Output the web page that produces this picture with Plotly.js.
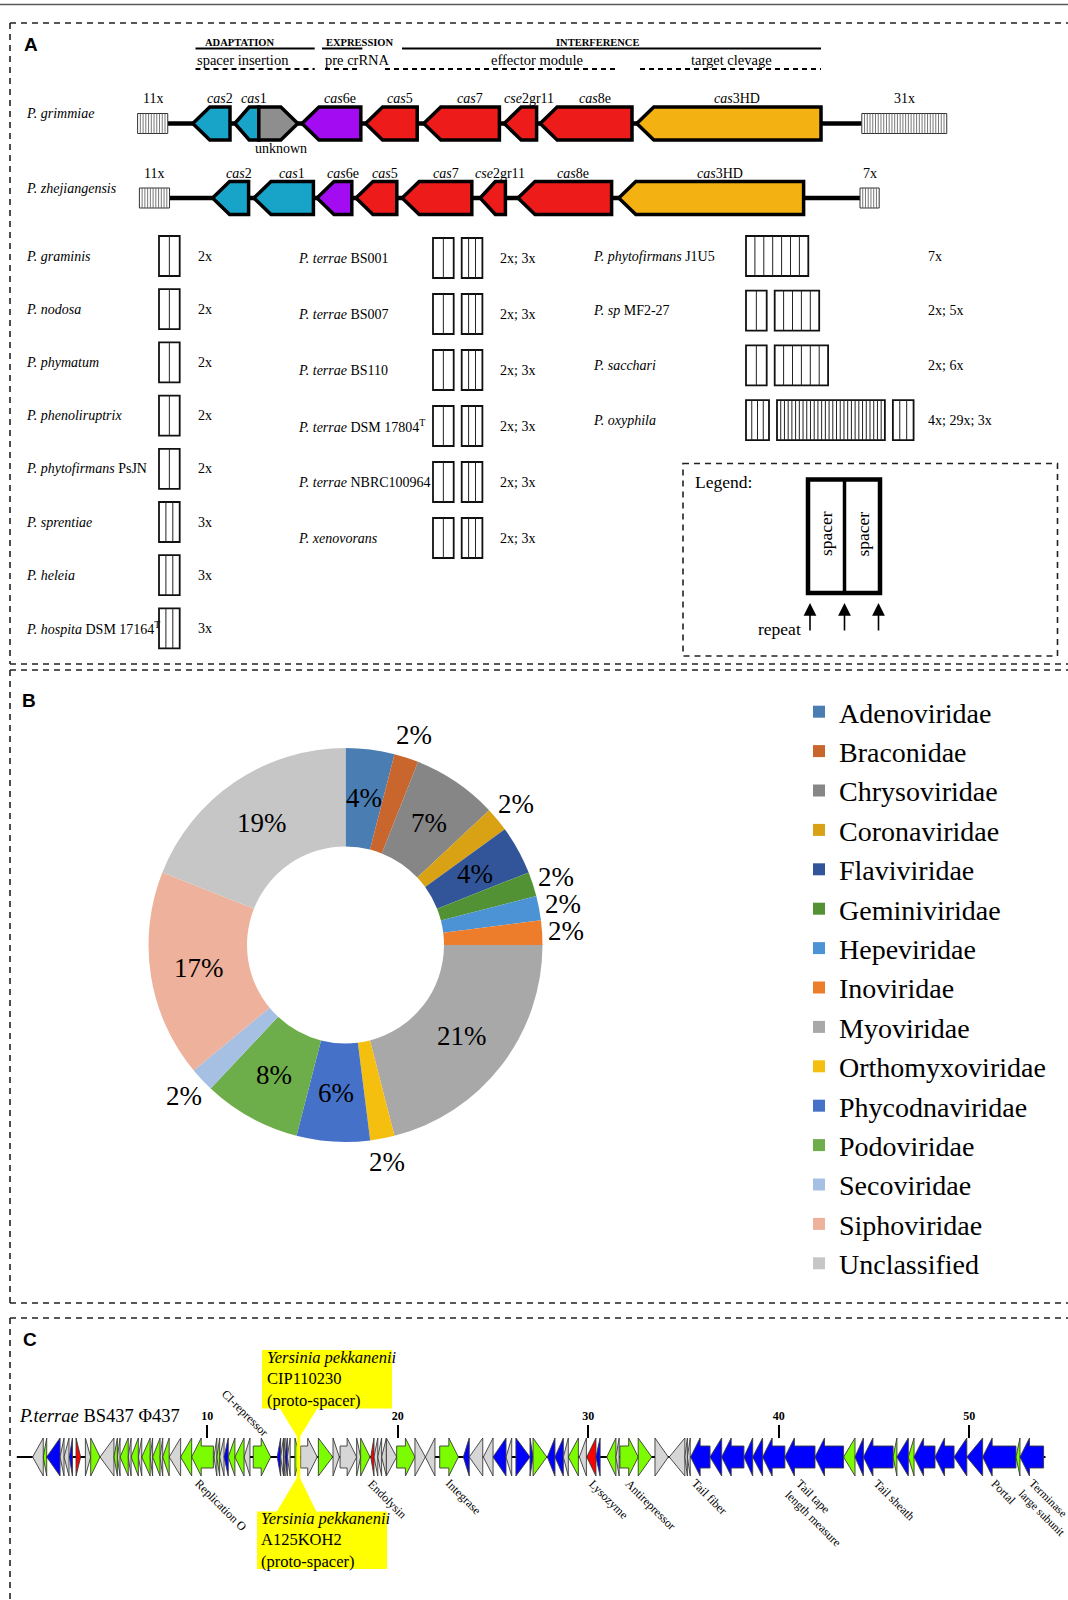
<!DOCTYPE html>
<html>
<head>
<meta charset="utf-8">
<title>CRISPR-Cas systems in Paraburkholderia</title>
<script src="https://cdn.plot.ly/plotly-3.0.1.min.js"></script>
<style>
  html, body { margin: 0; padding: 0; background: #ffffff; }
  #fig { width: 1068px; height: 1600px; }
</style>
</head>
<body>
<div id="fig"></div>
<script>
/* ================= DATA ================= */

/* Panel A — type I-E cas operons (map positions in kb) */
const grimmiaeGenes   = ['cas2', 'cas1', 'unknown', 'cas6e', 'cas5', 'cas7', 'cse2gr11', 'cas8e', 'cas3HD'];
const grimmiaeStart   = [0.92, 1.62, 2.02, 2.74, 3.80, 4.77, 6.11, 6.71, 8.32];
const grimmiaeEnd     = [1.54, 2.02, 2.67, 3.72, 4.66, 6.03, 6.65, 8.24, 11.39];
const grimmiaeStrand  = [-1, -1, 1, -1, -1, -1, -1, -1, -1];
const grimmiaeRepeats = [11, 31];
const grimmiaeArrayAt = [0.00, 12.07];

const zhejiangGenes   = ['cas2', 'cas1', 'cas6e', 'cas5', 'cas7', 'cse2gr11', 'cas8e', 'cas3HD'];
const zhejiangStart   = [1.25, 1.94, 2.99, 3.64, 4.41, 5.71, 6.34, 8.02];
const zhejiangEnd     = [1.85, 2.93, 3.57, 4.32, 5.57, 6.13, 7.90, 11.10];
const zhejiangStrand  = [-1, -1, -1, -1, -1, -1, -1, -1];
const zhejiangRepeats = [11, 7];
const zhejiangArrayAt = [0.03, 12.04];

/* Panel A — CRISPR arrays (spacers per array) */
const strainsCol1 = ['<i>P. graminis</i>', '<i>P. nodosa</i>', '<i>P. phymatum</i>', '<i>P. phenoliruptrix</i>',
                     '<i>P. phytofirmans</i> PsJN', '<i>P. sprentiae</i>', '<i>P. heleia</i>', '<i>P. hospita</i> DSM 17164<sup>T</sup>'];
const spacersCol1 = [[2], [2], [2], [2], [2], [3], [3], [3]];
const strainsCol2 = ['<i>P. terrae</i> BS001', '<i>P. terrae</i> BS007', '<i>P. terrae</i> BS110',
                     '<i>P. terrae</i> DSM 17804<sup>T</sup>', '<i>P. terrae</i> NBRC100964', '<i>P. xenovorans</i>'];
const spacersCol2 = [[2, 3], [2, 3], [2, 3], [2, 3], [2, 3], [2, 3]];
const strainsCol3 = ['<i>P. phytofirmans</i> J1U5', '<i>P. sp</i> MF2-27', '<i>P. sacchari</i>', '<i>P. oxyphila</i>'];
const spacersCol3 = [[7], [2, 5], [2, 6], [4, 29, 3]];

/* Panel B — viral families matched by spacers (%) */
const families = ['Adenoviridae', 'Braconidae', 'Chrysoviridae', 'Coronaviridae', 'Flaviviridae', 'Geminiviridae',
                  'Hepeviridae', 'Inoviridae', 'Myoviridae', 'Orthomyxoviridae', 'Phycodnaviridae', 'Podoviridae',
                  'Secoviridae', 'Siphoviridae', 'Unclassified'];
const familyShare = [4, 2, 7, 2, 4, 2, 2, 2, 21, 2, 6, 8, 2, 17, 19];

/* Panel C — prophage Φ437 gene map (kb); strand L/R; class g/b/x/r */
const phageStart = [0.83, 1.39, 1.57, 2.27, 2.48, 2.76, 3.11, 3.60, 3.88, 4.37,
                    5.10, 5.28, 5.42, 5.85, 6.00, 6.38, 6.56, 7.00, 7.13, 7.52,
                    7.66, 8.00, 8.60, 9.18, 10.35, 10.50, 10.65, 10.88, 11.10, 11.45,
                    11.93, 12.41, 13.67, 13.85, 14.00, 14.08, 14.20, 14.60, 14.90, 15.83,
                    16.60, 16.97, 17.84, 18.05, 18.58, 18.75, 18.95, 19.15, 19.40, 19.94,
                    20.90, 21.45, 22.20, 23.44, 23.75, 24.49, 25.00, 25.68, 26.20, 26.94,
                    27.10, 27.85, 28.25, 28.69, 28.95, 29.53, 29.92, 30.40, 30.97, 31.45,
                    31.66, 32.62, 33.50, 34.25, 35.07, 35.20, 35.37, 36.39, 37.00, 38.17,
                    38.63, 39.15, 40.32, 41.90, 43.40, 44.00, 44.44, 46.00, 46.20, 46.80,
                    47.10, 48.20, 49.20, 49.87, 50.70, 52.45, 52.66];
const phageEnd   = [1.39, 1.57, 2.27, 2.48, 2.74, 2.92, 3.35, 3.88, 4.37, 5.10,
                    5.28, 5.42, 5.85, 6.00, 6.38, 6.56, 7.00, 7.13, 7.52, 7.66,
                    8.00, 8.60, 9.18, 10.32, 10.50, 10.65, 10.88, 11.10, 11.45, 11.93,
                    12.24, 13.33, 13.85, 14.00, 14.08, 14.20, 14.35, 14.87, 15.77, 16.58,
                    16.93, 17.84, 18.05, 18.54, 18.75, 18.95, 19.15, 19.40, 19.94, 20.90,
                    21.45, 21.95, 23.18, 23.75, 24.46, 25.00, 25.68, 25.98, 26.94, 27.10,
                    27.82, 28.25, 28.69, 28.95, 29.48, 29.90, 30.40, 30.62, 31.45, 31.62,
                    32.62, 33.33, 34.20, 35.07, 35.20, 35.35, 36.39, 37.00, 38.17, 38.63,
                    39.15, 40.32, 41.90, 43.40, 44.00, 44.44, 46.00, 46.20, 46.80, 47.10,
                    48.20, 49.20, 49.87, 50.70, 52.45, 52.66, 53.90];
const phageStrand = ('LLLLLLRRRL' + 'LLLLLLLLLL' + 'LLLLLLLLLL' + 'LRLLLLLRRR' + 'RRRRLLLLRR' +
                     'RLRLLLLLRR' + 'RLLLLLLLLL' + 'RRRLLLLLLL' + 'LLLLLLLLLL' + 'LLLLLLL').split('');
const phageClass  = ('xgbxxbrxgx' + 'gxgxgxgxgx' + 'gxggxgxbgg' + 'xgbxxbxgxg' + 'xxxgrxxxxg' +
                     'xxgbxxbxbb' + 'gbbxgxrbgx' + 'ggxxxxbbbb' + 'bbbbgbbgbg' + 'bbbbbgb').split('');
const phageLength = 54.0;
const phageTicks  = [10, 20, 30, 40, 50];
const phageLabels = ['Replication O', 'Endolysin', 'Integrase', 'Lysozyme', 'Antirepressor', 'Tail fiber',
                     'Tail tape<br>length measure', 'Tail sheath', 'Portal', 'Terminase<br>large subunit'];
const phageLabelAt = [9.04, 18.12, 22.22, 29.72, 31.67, 35.13, 40.01, 44.68, 50.85, 52.29];
const repressorLabel = 'CI-repressor';
const repressorAt = 13.50;
const protospacerAt = 14.79;
const protospacerHits = ['<i>Yersinia pekkanenii</i><br>CIP110230<br>(proto-spacer)',
                         '<i>Yersinia pekkanenii</i><br>A125KOH2<br>(proto-spacer)'];

/* ================= STYLE ================= */
const SERIF = 'Liberation Serif, Times New Roman, serif';
const SANS = 'Liberation Sans, Arial, sans-serif';
const DASH = '6px,5px';
const CAS_COLORS = { cas1: '#18a4c9', cas2: '#18a4c9', unknown: '#8e8e8e', cas6e: '#a30cf2',
                     cas3HD: '#f3b212', other: '#ee1b1b' };
const FAMILY_COLORS = ['#4a7db2', '#c9662d', '#868686', '#d9a214', '#325599', '#529234', '#4c93d6',
                       '#ed7d2b', '#a8a8a8', '#f5bf10', '#4571c8', '#6dad4a', '#a6c0e4', '#eeb19b', '#c6c6c6'];
const PHAGE_COLORS = { g: '#7cfc00', b: '#0000ff', x: '#d6d6d6', r: '#ff0000' };

const shapes = [];
const annotations = [];
const traces = [];

function addLine(x0, y0, x1, y1, width, dash, color, xref) {
  shapes.push({ type: 'line', xref: xref || 'x', yref: 'y', x0, y0, x1, y1, layer: 'above',
                line: { color: color || '#000', width, dash: dash || 'solid' } });
}
function addRect(x0, y0, x1, y1, fill, color, width, dash, xref) {
  shapes.push({ type: 'rect', xref: xref || 'x', yref: 'y', x0, y0, x1, y1, layer: 'above',
                fillcolor: fill, line: { color: color || '#000', width: width, dash: dash || 'solid' } });
}
function addPath(pts, fill, color, width, xref) {
  const d = 'M' + pts.map(p => p[0].toFixed(4) + ',' + p[1].toFixed(2)).join('L') + 'Z';
  shapes.push({ type: 'path', xref: xref || 'x', yref: 'y', path: d, layer: 'above',
                fillcolor: fill, line: { color: color, width: width } });
}
function addText(x, y, text, size, opts) {
  const o = Object.assign({ xref: 'x', yref: 'y', x, y, text, showarrow: false,
    font: { family: SERIF, size, color: '#000' }, xanchor: 'center', yanchor: 'middle' }, opts || {});
  annotations.push(o);
}

/* ================= FRAME ================= */
addLine(0, 4.5, 1068, 4.5, 1.5, 'solid', '#5a5a5a');
// panel A
addLine(10, 23, 1068, 23, 1.6, DASH, '#222');
addLine(10, 23, 10, 664, 1.6, DASH, '#222');
addLine(10, 664, 1068, 664, 1.6, DASH, '#222');
// panel B
addLine(10, 670, 1068, 670, 1.6, DASH, '#222');
addLine(10, 670, 10, 1303, 1.6, DASH, '#222');
addLine(10, 1303, 1068, 1303, 1.6, DASH, '#222');
// panel C
addLine(10, 1318, 1068, 1318, 1.6, DASH, '#222');
addLine(10, 1318, 10, 1600, 1.6, DASH, '#222');

addText(30.5, 44, '<b>A</b>', 19, { font: { family: SANS, size: 19, color: '#000' } });
addText(29, 700, '<b>B</b>', 19, { font: { family: SANS, size: 19, color: '#000' } });
addText(30, 1339, '<b>C</b>', 19, { font: { family: SANS, size: 19, color: '#000' } });

/* ================= PANEL A: module header ================= */
addText(239, 42, '<b>ADAPTATION</b>', 10.5);
addLine(195.5, 48.5, 314.7, 48.5, 1.8);
addText(243, 59.5, 'spacer insertion', 14.5);
addLine(195.5, 69, 314.7, 69, 1.8, '5px,4px');

addText(359.5, 42, '<b>EXPRESSION</b>', 10.5);
addLine(322, 48.5, 362.4, 48.5, 1.8);
addText(357, 59.5, 'pre crRNA', 14.5);
addLine(325, 69, 361, 69, 1.8, '5px,4px');

addText(597.5, 42, '<b>INTERFERENCE</b>', 10.5);
addLine(402, 48.5, 821, 48.5, 1.8);
addText(536.5, 59.5, 'effector module', 14.5);
addLine(385, 69, 616.5, 69, 1.8, '5px,4px');
addText(731.6, 59.5, 'target clevage', 14.5);
addLine(640, 69, 821, 69, 1.8, '5px,4px');

/* ================= PANEL A: operons ================= */
const KB_PX_A = 60;             // px per kb on the operon axis
const REPEAT_KB = 2.74 / KB_PX_A; // width of one repeat-spacer unit
const HEAD_KB = 17 / KB_PX_A;

function casLabel(name) { return name.replace(/^(cas|cse)/, '<i>$1</i>'); }

function drawOperon(label, yc, names, starts, ends, strands, arrayAt, repeats) {
  addText(24, yc - 10, '<i>' + label + '</i>', 14, { xanchor: 'left' });
  const widths = repeats.map(n => n * REPEAT_KB);
  // backbone
  traces.push({ type: 'scatter', mode: 'lines', xaxis: 'x2', yaxis: 'y',
                x: [arrayAt[0] + widths[0], arrayAt[1]], y: [yc, yc],
                line: { color: '#000', width: 4.5 }, hoverinfo: 'skip', showlegend: false });
  // CRISPR arrays
  repeats.forEach((n, k) => {
    const x0 = arrayAt[k], x1 = x0 + widths[k];
    addRect(x0, yc - 10, x1, yc + 10, '#fff', '#333', 1, 'solid', 'x2');
    for (let j = 1; j < n; j++) {
      const xx = x0 + j * widths[k] / n;
      addLine(xx, yc - 10, xx, yc + 10, 0.8, 'solid', '#555', 'x2');
    }
    annotations.push({ xref: 'x2', yref: 'y', x: (x0 + x1) / 2, y: yc - 25, text: n + 'x', showarrow: false,
                       font: { family: SERIF, size: 14, color: '#000' } });
  });
  // genes
  const H = 16.5;
  names.forEach((g, i) => {
    const s = starts[i], e = ends[i], dir = strands[i];
    const h = Math.min(HEAD_KB, (e - s) * 0.6);
    let pts;
    if (dir < 0) pts = [[s, yc], [s + h, yc - H], [e, yc - H], [e, yc + H], [s + h, yc + H]];
    else pts = [[e, yc], [e - h, yc - H], [s, yc - H], [s, yc + H], [e - h, yc + H]];
    addPath(pts, CAS_COLORS[g] || CAS_COLORS.other, '#000', 3.5, 'x2');
    const mid = dir < 0 ? (s + h + e) / 2 : (s + e - h) / 2;
    if (g === 'unknown') {
      annotations.push({ xref: 'x2', yref: 'y', x: mid + 0.19, y: yc + 25, text: 'unknown', showarrow: false,
                         font: { family: SERIF, size: 14, color: '#000' } });
    } else {
      annotations.push({ xref: 'x2', yref: 'y', x: mid, y: yc - 25, text: casLabel(g), showarrow: false,
                         font: { family: SERIF, size: 14, color: '#000' } });
    }
  });
}
drawOperon('P. grimmiae', 123.5, grimmiaeGenes, grimmiaeStart, grimmiaeEnd, grimmiaeStrand, grimmiaeArrayAt, grimmiaeRepeats);
drawOperon('P. zhejiangensis', 198, zhejiangGenes, zhejiangStart, zhejiangEnd, zhejiangStrand, zhejiangArrayAt, zhejiangRepeats);

/* ================= PANEL A: CRISPR arrays ================= */
function arrayWidth(n) {
  if (n <= 3) return 20.7;
  if (n <= 4) return 23;
  if (n <= 7) return 8.9 * n;
  return 3.72 * n;
}
function drawArrayColumn(strains, spacers, xName, xBox, xCount, y0, dy) {
  strains.forEach((name, i) => {
    const yc = y0 + i * dy;
    addText(xName, yc, name, 14, { xanchor: 'left' });
    let x = xBox;
    spacers[i].forEach(n => {
      const w = arrayWidth(n);
      addRect(x, yc - 20, x + w, yc + 20, '#fff', '#111', 1.8);
      for (let j = 1; j < n; j++) addLine(x + j * w / n, yc - 20, x + j * w / n, yc + 20, 1, 'solid', '#222');
      x += w + 8;
    });
    addText(xCount, yc, spacers[i].map(n => n + 'x').join('; '), 14, { xanchor: 'left' });
  });
}
drawArrayColumn(strainsCol1, spacersCol1, 24, 159, 196, 256, 53.2);
drawArrayColumn(strainsCol2, spacersCol2, 296, 433, 497.5, 258, 56);
drawArrayColumn(strainsCol3, spacersCol3, 591, 746, 925.5, 256, 54.7);

/* legend box for arrays */
addRect(683, 463.5, 1057.5, 656, 'rgba(0,0,0,0)', '#222', 1.6, DASH);
addText(693, 482, 'Legend:', 17.5, { xanchor: 'left' });
addRect(808, 479.5, 880, 593, 'rgba(0,0,0,0)', '#000', 4.5);
addLine(844.5, 479.5, 844.5, 593, 3.5);
addText(826, 534, 'spacer', 17.5, { textangle: -90 });
addText(862.5, 534, 'spacer', 17.5, { textangle: -90 });
[810, 844.5, 878.5].forEach(x => {
  annotations.push({ xref: 'x', yref: 'y', x, y: 603, ax: 0, ay: 29, axref: 'pixel', ayref: 'pixel', text: '',
                     showarrow: true, arrowhead: 2, arrowsize: 1.6, arrowwidth: 1.6, arrowcolor: '#000' });
});
addText(803, 628.5, 'repeat', 17.5, { xanchor: 'right' });

/* ================= PANEL B: donut ================= */
const CX = 345.5, CY = 945, R = 197;
traces.push({
  type: 'pie', labels: families, values: familyShare, sort: false, direction: 'clockwise', rotation: 0,
  hole: 0.5, textinfo: 'none', hoverinfo: 'skip',
  marker: { colors: FAMILY_COLORS, line: { width: 0 } },
  domain: { x: [(CX - R) / 1068, (CX + R) / 1068], y: [1 - (CY + R) / 1600, 1 - (CY - R) / 1600] },
  showlegend: true
});
(function () {
  const total = familyShare.reduce((a, b) => a + b, 0);
  let acc = 0;
  familyShare.forEach(v => {
    const mid = (acc + v / 2) / total * 2 * Math.PI;
    acc += v;
    const r = v <= 2 ? 221 : 148;
    addText(CX + r * Math.sin(mid), CY - r * Math.cos(mid), v + '%', 27);
  });
})();

/* ================= PANEL C: prophage map ================= */
const KB0_PX = 16.8, KB_PX_C = 19.05;
const YC = 1457, GH = 19, SH = 11, HEAD_C = 0.5;
addText(17, 1416, '<i>P.terrae</i> BS437 Φ437', 18.5, { xanchor: 'left' });
traces.push({ type: 'scatter', mode: 'lines', xaxis: 'x3', yaxis: 'y', x: [0, phageLength], y: [YC, YC],
              line: { color: '#000', width: 2 }, hoverinfo: 'skip', showlegend: false });
phageStart.forEach((s, i) => {
  const e = phageEnd[i], w = e - s, left = phageStrand[i] === 'L';
  let pts;
  if (w <= 0.85) {
    pts = left ? [[s, YC], [e, YC - GH], [e, YC + GH]] : [[e, YC], [s, YC - GH], [s, YC + GH]];
  } else if (left) {
    pts = [[s, YC], [s + HEAD_C, YC - GH], [s + HEAD_C, YC - SH], [e, YC - SH], [e, YC + SH], [s + HEAD_C, YC + SH], [s + HEAD_C, YC + GH]];
  } else {
    pts = [[e, YC], [e - HEAD_C, YC - GH], [e - HEAD_C, YC - SH], [s, YC - SH], [s, YC + SH], [e - HEAD_C, YC + SH], [e - HEAD_C, YC + GH]];
  }
  addPath(pts, PHAGE_COLORS[phageClass[i]], '#3a3a3a', 0.9, 'x3');
});
// protospacer callouts
(function () {
  const px = KB0_PX + protospacerAt * KB_PX_C;
  addPath([[px - 19, 1408], [px + 19, 1408], [px, 1439]], '#ffff00', 'rgba(0,0,0,0)', 0);
  addPath([[px, 1475], [px + 18, 1512], [px - 22, 1512]], '#ffff00', 'rgba(0,0,0,0)', 0);
  addLine(protospacerAt, 1436, protospacerAt, 1478, 3.5, 'solid', '#ffff00', 'x3');
  addRect(262, 1350, 392, 1408.5, '#ffff00', 'rgba(0,0,0,0)', 0);
  addRect(257, 1511.5, 387, 1569, '#ffff00', 'rgba(0,0,0,0)', 0);
  addText(265, 1379, protospacerHits[0], 16.5, { xanchor: 'left', align: 'left' });
  addText(259, 1540, protospacerHits[1], 16.5, { xanchor: 'left', align: 'left' });
})();
phageLabels.forEach((t, i) => {
  const last = i === phageLabels.length - 1;
  annotations.push({ xref: 'x3', yref: 'y', x: phageLabelAt[i], y: 1474, text: t, showarrow: false,
                     textangle: 45, xanchor: 'left', yanchor: 'top', align: 'left',
                     font: { family: SERIF, size: last ? 11.5 : 12, color: '#000' } });
});
annotations.push({ xref: 'x3', yref: 'y', x: repressorAt, y: 1442, text: repressorLabel, showarrow: false,
                   textangle: 45, xanchor: 'right', yanchor: 'bottom',
                   font: { family: SERIF, size: 12, color: '#000' } });

/* anchor trace for the page axes */
traces.push({ type: 'scatter', mode: 'markers', x: [0], y: [0], marker: { opacity: 0 }, hoverinfo: 'skip', showlegend: false });

const layout = {
  width: 1068, height: 1600, margin: { l: 0, r: 0, t: 0, b: 0, pad: 0 },
  paper_bgcolor: '#fff', plot_bgcolor: 'rgba(0,0,0,0)',
  xaxis: { range: [0, 1068], domain: [0, 1], visible: false, fixedrange: true },
  yaxis: { range: [1600, 0], domain: [0, 1], visible: false, fixedrange: true },
  xaxis2: { overlaying: 'x', anchor: 'y', visible: false,
            range: [-137.6 / KB_PX_A, (1068 - 137.6) / KB_PX_A], fixedrange: true },
  xaxis3: { overlaying: 'x', anchor: 'free', position: 1 - 1438 / 1600, side: 'top',
            range: [-KB0_PX / KB_PX_C, (1068 - KB0_PX) / KB_PX_C],
            tickvals: phageTicks, ticktext: phageTicks.map(String), ticks: 'outside', ticklen: 13, tickwidth: 2,
            tickcolor: '#000', showline: false, showgrid: false, zeroline: false,
            tickfont: { family: SERIF, size: 12, color: '#000', weight: 'bold' }, fixedrange: true },
  showlegend: true,
  legend: { x: (839 - 40) / 1068, xanchor: 'left', y: 1 - 687 / 1600, yanchor: 'top',
            font: { family: SERIF, size: 28, color: '#000' }, bgcolor: 'rgba(0,0,0,0)', borderwidth: 0,
            traceorder: 'normal' },
  shapes, annotations
};

Plotly.newPlot('fig', traces, layout, { displayModeBar: false, staticPlot: true });
</script>
</body>
</html>
